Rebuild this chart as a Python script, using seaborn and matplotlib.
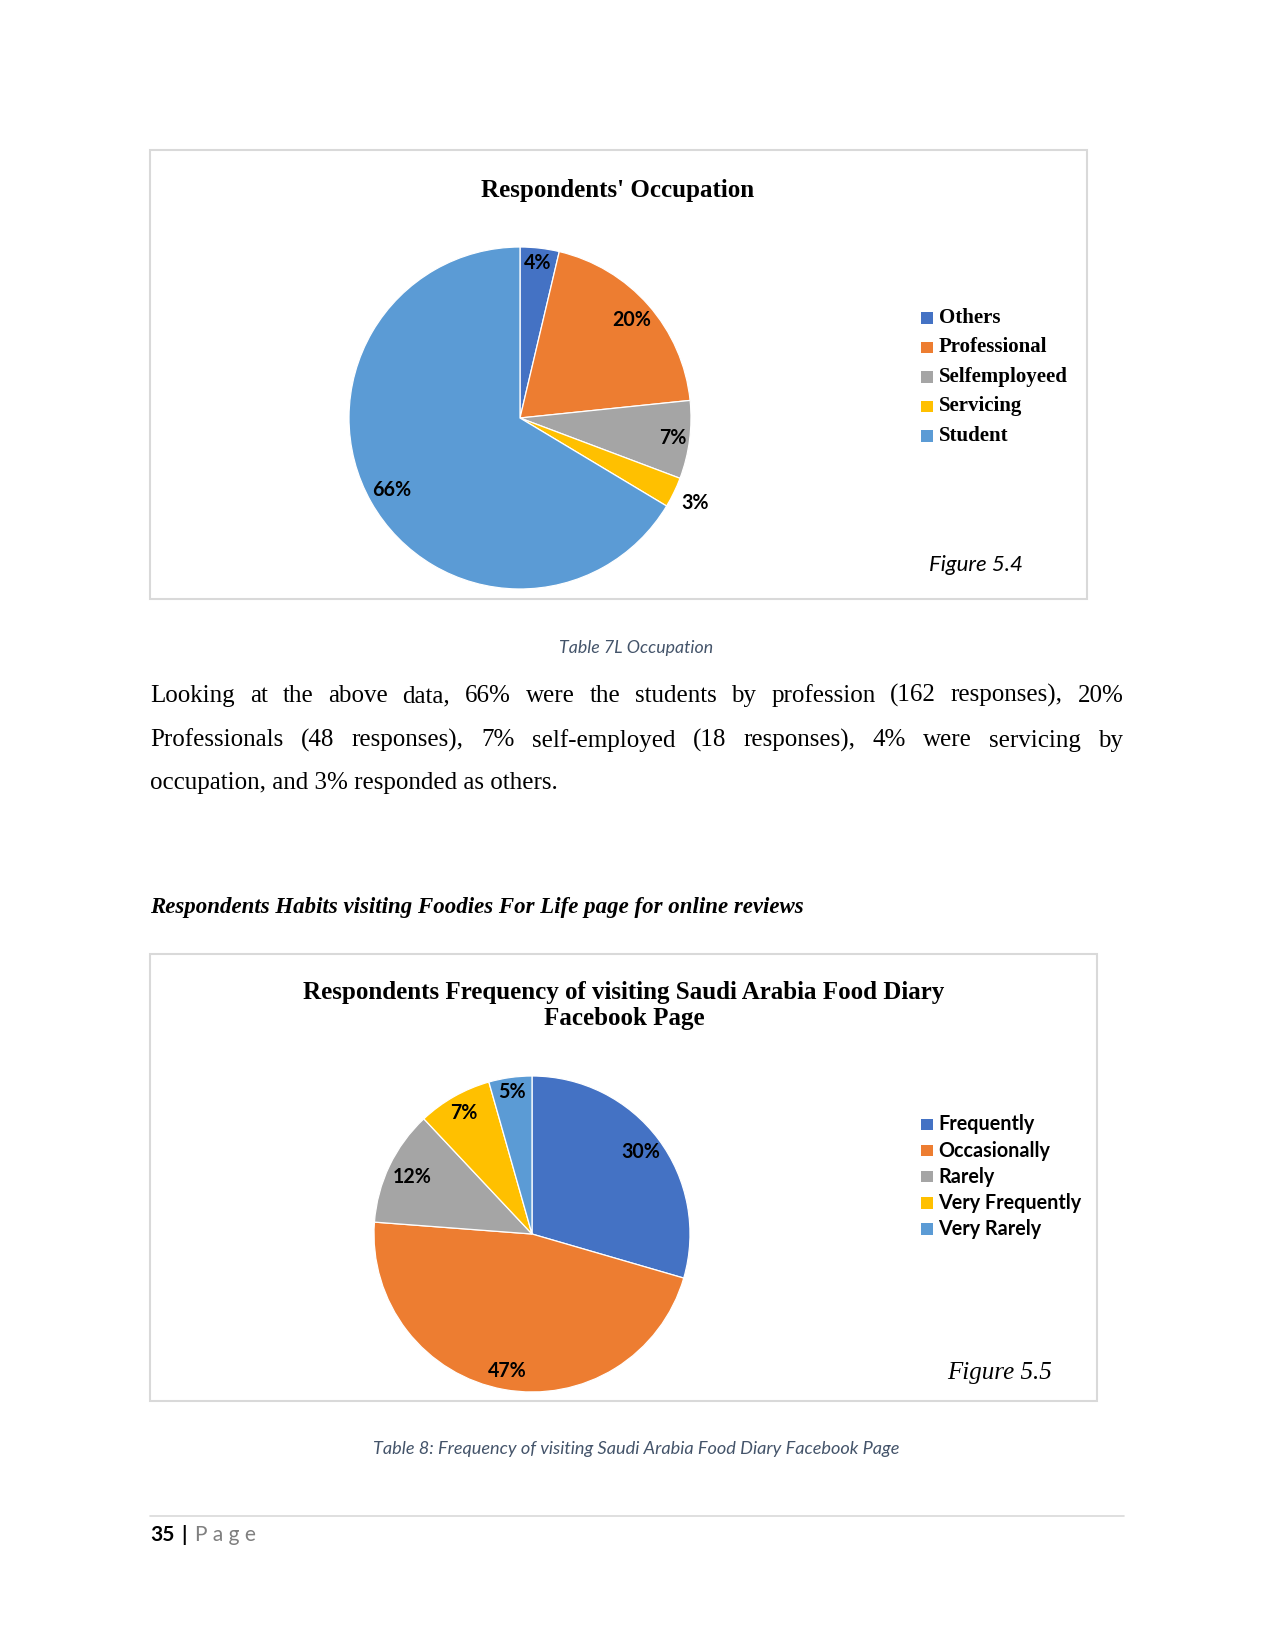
import matplotlib
matplotlib.use("Agg")
import matplotlib.pyplot as plt
from matplotlib.patches import Rectangle
import seaborn as sns
import numpy as np

# ---------------- data ----------------
occ_categories = ["Others", "Professional", "Selfemployeed", "Servicing", "Student"]
occ_values = [9, 48, 18, 7, 162]
occ_labels = ["4%", "20%", "7%", "3%", "66%"]

freq_categories = ["Frequently", "Occasionally", "Rarely", "Very Frequently", "Very Rarely"]
freq_values = [29.5, 46.7, 11.8, 7.6, 4.4]
freq_labels = ["30%", "47%", "12%", "7%", "5%"]

office_colors = ["#4472C4", "#ED7D31", "#A5A5A5", "#FFC000", "#5B9BD5"]

title1 = "Respondents' Occupation"
title2_lines = ["Respondents Frequency of visiting Saudi Arabia Food Diary", "Facebook Page"]
caption1 = "Table 7L Occupation"
caption2 = "Table 8: Frequency of visiting Saudi Arabia Food Diary Facebook Page"
fig_label1 = "Figure 5.4"
fig_label2 = "Figure 5.5"
heading = "Respondents Habits visiting Foodies For Life page for online reviews"
para_lines = [
    "Looking at the above data, 66% were the students by profession (162 responses), 20%",
    "Professionals (48 responses), 7% self-employed (18 responses), 4% were servicing by",
    "occupation, and 3% responded as others.",
]

# ---------------- setup ----------------
sns.set_theme(style="white")
plt.rcParams["font.family"] = ["DejaVu Sans"]
palette = sns.color_palette(office_colors)

W, H = 1275, 1650
DPI = 150
fig = plt.figure(figsize=(W / DPI, H / DPI), dpi=DPI)
fig.patch.set_facecolor("white")

SERIF = "Liberation Serif"
SANS = "Lato"


def px(x, y):
    return (x / W, 1 - y / H)


def frame(x0, y0, x1, y1):
    fig.patches.append(Rectangle(px(x0, y1), (x1 - x0) / W, (y1 - y0) / H,
                                 transform=fig.transFigure, fill=False,
                                 edgecolor="#D9D9D9", linewidth=1.0))


def pie_axes(cx, cy, r):
    l, b = px(cx - r, cy + r)
    ax = fig.add_axes([l, b, 2 * r / W, 2 * r / H])
    return ax


def draw_pie(ax, values, labels, dists):
    wedges, _ = ax.pie(values, colors=palette, startangle=90, counterclock=False,
                       radius=1.0, wedgeprops=dict(edgecolor="white", linewidth=0.6))
    ax.set_xlim(-1, 1)
    ax.set_ylim(-1, 1)
    ax.set_aspect("equal")
    ax.axis("off")
    for w, lab, d in zip(wedges, labels, dists):
        mid = np.deg2rad((w.theta1 + w.theta2) / 2)
        ax.text(d * np.cos(mid), d * np.sin(mid), lab, ha="center", va="center",
                fontfamily=SANS, fontweight="bold", fontsize=9.4, color="#000000",
                clip_on=False)
    return wedges


def legend(cats, x_sq, y0, pitch, sq, font, fsize, weight):
    for i, c in enumerate(cats):
        y = y0 + i * pitch
        fig.patches.append(Rectangle(px(x_sq, y + sq / 2), sq / W, sq / H,
                                     transform=fig.transFigure,
                                     facecolor=palette[i], edgecolor="none"))
        fig.text(*px(x_sq + sq + 6, y), c, ha="left", va="center",
                 fontfamily=font, fontsize=fsize, fontweight=weight, color="#000000")


# ---------------- chart 1 ----------------
frame(150, 150, 1087, 599)
fig.text(*px(618, 190), title1, ha="center", va="center", fontfamily=SERIF,
         fontweight="bold", fontsize=12, color="black")
ax1 = pie_axes(520, 418, 171)
draw_pie(ax1, occ_values, occ_labels, [0.91, 0.87, 0.90, 1.14, 0.86])
legend(occ_categories, 921, 318, 29.45, 11.5, SERIF, 10, "bold")
fig.text(*px(929, 565), fig_label1, ha="left", va="center", fontfamily=SANS,
         fontstyle="italic", fontsize=10.7, color="black")

fig.text(*px(636, 648), caption1, ha="center", va="center", fontfamily=SANS,
         fontstyle="italic", fontsize=8.5, color="#44546A")

# ---------------- paragraph (justified, shared baseline) ----------------
fig.canvas.draw()
renderer = fig.canvas.get_renderer()
x_left, x_right = 150.5, 1123.5
baselines = [702, 746.5, 789.5]
for li, (line, yb) in enumerate(zip(para_lines, baselines)):
    words = line.split(" ")
    kw = dict(fontfamily=SERIF, fontsize=12, color="black", ha="left", va="baseline")
    if li < len(para_lines) - 1:
        ts = [fig.text(0, 0, w_, **kw) for w_ in words]
        widths = [t.get_window_extent(renderer).width for t in ts]
        gap = (x_right - x_left - sum(widths)) / (len(words) - 1)
        x = x_left
        for t, wd in zip(ts, widths):
            t.set_position(px(x, yb))
            x += wd + gap
    else:
        fig.text(*px(x_left, yb), line, **kw)

fig.text(*px(150.5, 907), heading, ha="left", va="center", fontfamily=SERIF,
         fontweight="bold", fontstyle="italic", fontsize=11, color="black")

# ---------------- chart 2 ----------------
frame(150, 954, 1097, 1401)
for i, tl in enumerate(title2_lines):
    fig.text(*px(624, 993 + 25.5 * i), tl, ha="center", va="center", fontfamily=SERIF,
             fontweight="bold", fontsize=12, color="black")
ax2 = pie_axes(532, 1234, 158)
draw_pie(ax2, freq_values, freq_labels, [0.86, 0.88, 0.84, 0.88, 0.91])
legend(freq_categories, 921, 1124.5, 26.1, 11.5, SANS, 9.5, "bold")
fig.text(*px(947, 1373), fig_label2, ha="left", va="center", fontfamily=SERIF,
         fontstyle="italic", fontsize=12, color="black")

fig.text(*px(636, 1449), caption2, ha="center", va="center", fontfamily=SANS,
         fontstyle="italic", fontsize=8.7, color="#44546A")

# ---------------- footer ----------------
fig.add_artist(plt.Line2D([150 / W, 1124 / W], [1 - 1516 / H, 1 - 1516 / H],
                          color="#D9D9D9", linewidth=0.8, transform=fig.transFigure))
fig.text(*px(150, 1535), "35", ha="left", va="center", fontfamily=SANS,
         fontweight="bold", fontsize=10, color="black")
fig.text(*px(181, 1535), "|", ha="left", va="center", fontfamily=SANS,
         fontweight="bold", fontsize=10, color="black")
fig.text(*px(195, 1535), "P a g e", ha="left", va="center", fontfamily=SANS,
         fontsize=10, color="#7F7F7F")

fig.savefig("out.png", dpi=DPI, facecolor="white")
